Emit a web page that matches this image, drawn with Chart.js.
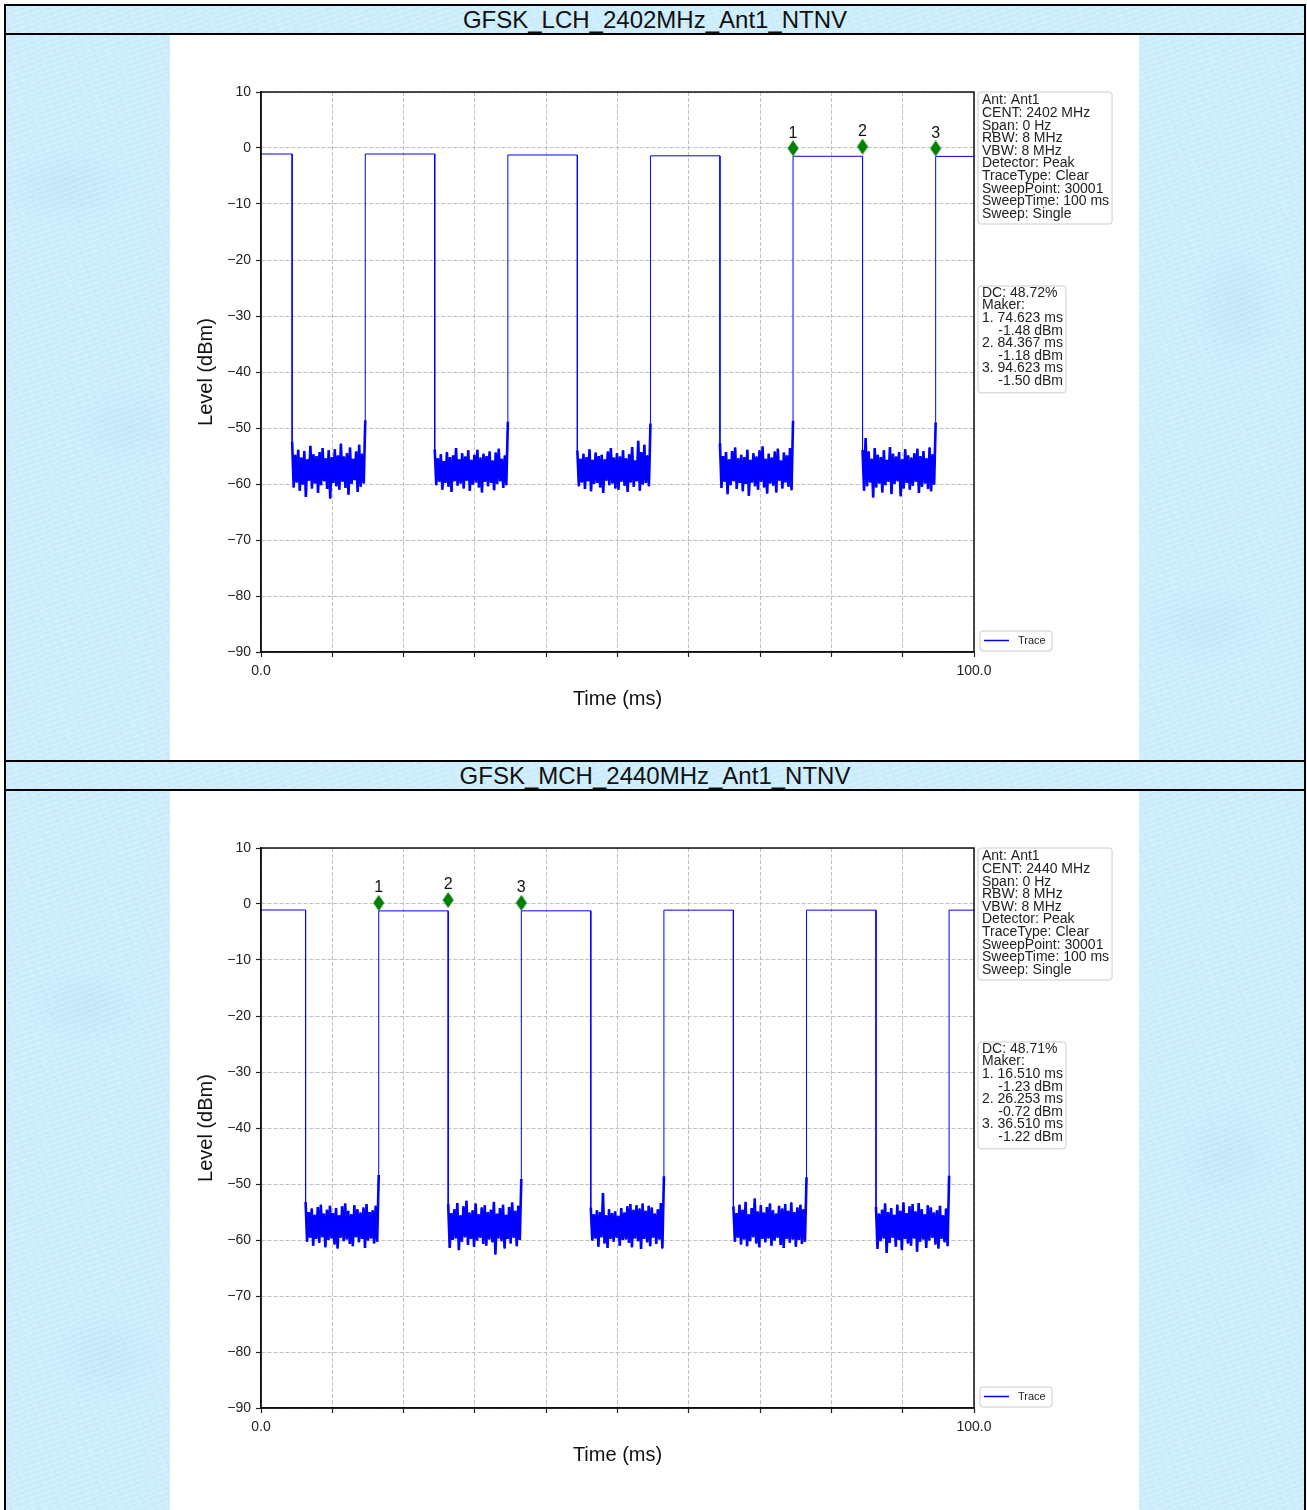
<!DOCTYPE html>
<html>
<head>
<meta charset="utf-8">
<script src="https://cdn.jsdelivr.net/npm/chart.js@4.4.1/dist/chart.umd.min.js"></script>
<style>
    html, body { margin: 0; padding: 0; background: #fff; }
    body { width: 1307px; height: 1510px; position: relative; overflow: hidden;
           font-family: "Liberation Sans", Arial, Helvetica, sans-serif; }
    .frame {
        position: absolute; left: 4px; top: 4px; width: 1302px; height: 1520px;
        box-sizing: border-box; border: 2px solid #000; border-bottom: none;
        background-color: #ccedfc;
        background-image:
            repeating-linear-gradient(160deg, rgba(255,255,255,0.25) 0 1px, transparent 1px 5px),
            repeating-linear-gradient(70deg, rgba(180,220,245,0.18) 0 2px, transparent 2px 9px),
            radial-gradient(ellipse 70px 40px at 60px 180px, rgba(170,215,242,0.3), transparent),
            radial-gradient(ellipse 60px 45px at 120px 420px, rgba(170,215,242,0.25), transparent),
            radial-gradient(ellipse 50px 70px at 1230px 300px, rgba(170,215,242,0.3), transparent),
            radial-gradient(ellipse 70px 45px at 1200px 620px, rgba(170,215,242,0.25), transparent),
            radial-gradient(ellipse 60px 40px at 80px 1000px, rgba(170,215,242,0.3), transparent),
            radial-gradient(ellipse 60px 60px at 1220px 1150px, rgba(170,215,242,0.25), transparent),
            radial-gradient(ellipse 60px 50px at 100px 1350px, rgba(170,215,242,0.25), transparent);
    }
    .rule { position: absolute; left: 4px; width: 1302px; height: 2px; background: #000; }
    .white { position: absolute; left: 170px; width: 969px; background: #fff; }
    .title { position: absolute; left: 6px; width: 1298px; height: 27px; line-height: 27px;
             text-align: center; font-size: 24px; color: #111; }
    canvas { position: absolute; left: 170px; }
</style>
</head>
<body>
<div class="frame"></div>
<div class="rule" style="top:33px"></div>
<div class="rule" style="top:760px"></div>
<div class="rule" style="top:789px"></div>
<div class="white" style="top:35px;height:725px"></div>
<div class="white" style="top:791px;height:730px"></div>
<div class="title" style="top:6px">GFSK_LCH_2402MHz_Ant1_NTNV</div>
<div class="title" style="top:762px">GFSK_MCH_2440MHz_Ant1_NTNV</div>
<canvas id="lchChart" width="969" height="726" style="top:34px"></canvas>
<canvas id="mchChart" width="969" height="726" style="top:790px"></canvas>

<script>
const FONT = '"Liberation Sans", Arial, Helvetica, sans-serif';

// ---- LCH 2402 MHz ----
const lchOnStarts = [0, 14.623, 34.623, 54.623, 74.623, 94.623];
const lchOffStarts = [4.367, 24.367, 44.367, 64.367, 84.367];
const lchOnLevels = [-1.07, -1.07, -1.25, -1.4, -1.48, -1.5];
const lchNoise = [
    [-52.4,-60.6,-54.8,-59.7,-53.9,-61.2,-55.3,-60.1,-54.1,-62.3,-55.6,-59.4,-53.2,-60.8,-54.7,-59.9,-55.0,-61.6,-54.3,-60.2,-53.6,-59.5,-55.4,-60.9,-54.0,-62.6,-55.2,-59.8,-53.8,-60.4,-54.9,-61.0,-52.8,-59.6,-55.1,-60.7,-54.5,-61.9,-53.5,-60.0,-55.5,-59.3,-54.2,-61.4,-53.0,-60.5,-54.6,-59.9,-48.6],
    [-53.8,-60.2,-55.4,-59.6,-54.7,-61.0,-55.9,-59.8,-54.3,-60.5,-55.2,-61.4,-54.9,-59.5,-53.6,-60.3,-55.6,-59.9,-54.5,-60.8,-55.1,-59.4,-54.0,-61.2,-55.7,-60.1,-54.8,-59.7,-53.9,-60.6,-55.3,-61.5,-54.6,-59.6,-55.0,-60.4,-54.2,-59.8,-55.8,-61.1,-54.4,-60.0,-53.7,-59.5,-55.5,-60.7,-54.9,-60.2,-48.9],
    [-54.0,-60.4,-55.5,-59.7,-54.6,-60.9,-55.2,-59.5,-53.8,-61.3,-55.7,-60.0,-54.4,-59.8,-55.0,-60.6,-54.8,-61.6,-55.6,-59.4,-54.2,-60.2,-53.6,-59.9,-55.3,-60.8,-54.5,-61.0,-55.1,-59.6,-54.0,-60.3,-55.4,-61.4,-54.7,-59.7,-53.4,-60.5,-55.8,-59.5,-52.3,-61.2,-54.3,-60.1,-53.0,-59.8,-54.9,-60.4,-49.2],
    [-52.7,-60.7,-55.0,-59.6,-54.3,-61.8,-55.6,-60.2,-54.1,-59.5,-53.5,-60.9,-55.4,-59.8,-54.8,-61.3,-55.2,-60.0,-53.9,-62.1,-55.7,-59.7,-54.5,-60.4,-55.1,-61.0,-54.0,-59.6,-53.3,-60.6,-55.5,-61.7,-54.6,-59.9,-55.3,-60.3,-54.2,-61.5,-53.7,-59.4,-55.8,-60.8,-54.4,-59.7,-54.9,-60.5,-53.6,-61.1,-48.7],
    [-53.9,-61.2,-51.8,-60.4,-54.2,-59.7,-55.5,-62.4,-53.6,-60.6,-54.8,-59.9,-55.2,-61.5,-54.0,-60.2,-55.7,-59.6,-53.4,-61.8,-54.6,-60.0,-55.1,-59.5,-54.3,-62.2,-55.6,-60.8,-53.8,-59.8,-54.9,-61.0,-55.3,-60.3,-54.5,-59.6,-53.7,-61.6,-55.0,-60.5,-54.1,-59.9,-55.4,-60.9,-53.5,-61.3,-54.7,-60.1,-49.0]
];
const lchMarkerTimes = [74.623, 84.367, 94.623];
const lchMarkerLevels = [-1.48, -1.18, -1.50];
const lchInfo = ['Ant: Ant1', 'CENT: 2402 MHz', 'Span: 0 Hz', 'RBW: 8 MHz', 'VBW: 8 MHz',
    'Detector: Peak', 'TraceType: Clear', 'SweepPoint: 30001', 'SweepTime: 100 ms', 'Sweep: Single'];
const lchDc = 'DC: 48.72%';

// ---- MCH 2440 MHz ----
const mchOnStarts = [0, 16.510, 36.510, 56.510, 76.510, 96.510];
const mchOffStarts = [6.253, 26.253, 46.253, 66.253, 86.253];
const mchOnLevels = [-1.07, -1.23, -1.22, -1.1, -1.1, -1.1];
const mchNoise = [
    [-53.2,-60.3,-55.0,-59.6,-54.4,-61.0,-55.5,-59.8,-54.1,-60.5,-53.7,-59.5,-55.3,-61.3,-54.6,-60.0,-53.9,-59.7,-55.2,-60.8,-54.3,-61.5,-55.6,-59.6,-54.0,-60.2,-53.5,-59.9,-54.8,-60.7,-55.4,-61.1,-53.8,-59.5,-54.5,-60.4,-55.1,-59.8,-54.2,-61.4,-53.6,-60.1,-55.0,-59.7,-54.7,-60.6,-53.9,-60.3,-48.4],
    [-53.6,-61.4,-55.2,-60.0,-54.5,-59.7,-53.4,-61.8,-55.6,-60.3,-54.0,-59.5,-53.0,-60.9,-55.1,-59.8,-54.7,-61.2,-53.5,-60.1,-55.4,-59.6,-54.2,-60.7,-53.8,-61.0,-55.0,-59.9,-54.6,-60.4,-53.2,-62.6,-55.3,-59.7,-54.3,-60.2,-53.7,-61.5,-55.5,-59.8,-54.1,-60.6,-53.3,-59.6,-54.8,-61.1,-53.9,-60.0,-49.1],
    [-54.2,-60.1,-55.4,-59.7,-54.7,-61.2,-55.0,-59.5,-51.6,-60.6,-55.6,-61.4,-54.5,-59.8,-55.2,-60.3,-54.9,-59.6,-55.7,-61.0,-54.3,-60.0,-55.1,-59.9,-54.0,-60.5,-53.6,-61.3,-54.6,-59.7,-53.8,-60.2,-54.4,-61.6,-53.5,-59.8,-54.8,-60.4,-53.9,-61.1,-54.2,-59.6,-55.3,-60.7,-54.5,-59.9,-53.4,-61.5,-48.6],
    [-54.0,-60.3,-55.2,-59.6,-53.7,-60.8,-54.6,-59.9,-53.2,-61.1,-55.4,-60.2,-54.3,-59.5,-52.6,-60.6,-54.9,-61.3,-53.8,-59.8,-55.1,-60.4,-54.1,-59.7,-53.5,-61.0,-54.7,-60.1,-55.3,-59.6,-53.9,-60.9,-54.4,-61.4,-53.6,-59.8,-54.8,-60.5,-53.3,-59.9,-55.0,-61.2,-54.2,-60.0,-53.7,-60.7,-54.5,-60.3,-48.8],
    [-54.1,-61.6,-55.3,-60.2,-54.6,-59.7,-53.5,-62.3,-55.0,-60.5,-54.3,-59.6,-55.5,-61.2,-53.7,-60.0,-54.8,-61.8,-53.3,-59.8,-55.2,-60.6,-54.0,-61.0,-53.6,-59.7,-54.9,-62.1,-53.4,-60.3,-54.5,-59.9,-55.4,-61.4,-53.8,-60.1,-54.2,-59.6,-55.1,-60.8,-54.7,-61.5,-53.9,-59.8,-55.6,-60.4,-54.4,-61.1,-48.5]
];
const mchMarkerTimes = [16.510, 26.253, 36.510];
const mchMarkerLevels = [-1.23, -0.72, -1.22];
const mchInfo = ['Ant: Ant1', 'CENT: 2440 MHz', 'Span: 0 Hz', 'RBW: 8 MHz', 'VBW: 8 MHz',
    'Detector: Peak', 'TraceType: Clear', 'SweepPoint: 30001', 'SweepTime: 100 ms', 'Sweep: Single'];
const mchDc = 'DC: 48.71%';

const yTicks = [10, 0, -10, -20, -30, -40, -50, -60, -70, -80, -90];

// noise samples are spread evenly over each off interval
function noisePoints(end, next, gap) {
    return gap.map((v, k) => ({x: end + (next - end) * k / (gap.length - 1), y: v}));
}

function buildTrace(onStarts, offStarts, onLevels, noise) {
    const pts = [];
    onStarts.forEach((start, i) => {
        const end = i < offStarts.length ? offStarts[i] : 100;
        pts.push({x: start, y: onLevels[i]}, {x: end, y: onLevels[i]});
        if (i < offStarts.length) {
            pts.push(...noisePoints(end, onStarts[i + 1], noise[i]));
        }
    });
    return pts;
}

// same noise floor samples, broken between bursts, drawn heavier so the band reads solid
function buildBand(onStarts, offStarts, noise) {
    const pts = [];
    offStarts.forEach((end, i) => {
        pts.push(...noisePoints(end, onStarts[i + 1], noise[i]));
        pts.push({x: onStarts[i + 1], y: null});
    });
    return pts;
}

// thin green diamond, bottom tip sits on the data point
const diamond = document.createElement('canvas');
diamond.width = 12;
diamond.height = 32;
(function () {
    const c = diamond.getContext('2d');
    c.fillStyle = '#008000';
    c.beginPath();
    c.moveTo(6, 0);
    c.lineTo(11.5, 8);
    c.lineTo(6, 16);
    c.lineTo(0.5, 8);
    c.closePath();
    c.fill();
})();

function roundBox(ctx, x, y, w, h, r) {
    ctx.beginPath();
    ctx.moveTo(x + r, y);
    ctx.arcTo(x + w, y, x + w, y + h, r);
    ctx.arcTo(x + w, y + h, x, y + h, r);
    ctx.arcTo(x, y + h, x, y, r);
    ctx.arcTo(x, y, x + w, y, r);
    ctx.closePath();
    ctx.fillStyle = '#fff';
    ctx.fill();
    ctx.strokeStyle = '#cccccc';
    ctx.lineWidth = 1;
    ctx.stroke();
}

function decorPlugin(info, dc, markerTimes, markerLevels) {
    return {
        id: 'scopeDecor',
        afterDraw(chart) {
            const ctx = chart.ctx;
            const a = chart.chartArea;
            ctx.save();

            // full axes box
            ctx.strokeStyle = '#111';
            ctx.lineWidth = 1.5;
            ctx.strokeRect(a.left, a.top, a.right - a.left, a.bottom - a.top);

            // marker numbers
            const meta = chart.getDatasetMeta(2);
            ctx.fillStyle = '#111';
            ctx.font = '16px ' + FONT;
            ctx.textAlign = 'center';
            ctx.textBaseline = 'middle';
            meta.data.forEach((pt, i) => ctx.fillText(String(i + 1), pt.x, pt.y - 23));

            // axis titles
            ctx.font = '20px ' + FONT;
            ctx.fillText('Time (ms)', (a.left + a.right) / 2, 665);
            ctx.save();
            ctx.translate(36, (a.top + a.bottom) / 2);
            ctx.rotate(-Math.PI / 2);
            ctx.fillText('Level (dBm)', 0, 0);
            ctx.restore();

            // instrument settings box
            const bx = a.right + 4;
            ctx.font = '14px ' + FONT;
            const lh = 12.6;
            const w1 = Math.max(...info.map(t => ctx.measureText(t).width));
            roundBox(ctx, bx, a.top, w1 + 7, lh * info.length + 6, 3);
            ctx.fillStyle = '#222';
            ctx.textAlign = 'left';
            info.forEach((t, i) => ctx.fillText(t, bx + 4, a.top + 8.5 + i * lh));

            // duty cycle / marker box
            const lines = [dc, 'Maker:'];
            markerTimes.forEach((t, i) => {
                lines.push((i + 1) + '. ' + t.toFixed(3) + ' ms');
                lines.push(markerLevels[i].toFixed(2) + ' dBm');
            });
            const mainW = ctx.measureText('1. ' + markerTimes[0].toFixed(3) + ' ms').width;
            const w2 = Math.max(mainW, ctx.measureText(dc).width);
            const by = 252;
            roundBox(ctx, bx, by, w2 + 7, lh * lines.length + 6, 3);
            ctx.fillStyle = '#222';
            lines.forEach((t, i) => {
                const isLevel = i >= 2 && (i - 2) % 2 === 1;
                ctx.textAlign = isLevel ? 'right' : 'left';
                ctx.fillText(t, isLevel ? bx + 4 + mainW : bx + 4, by + 7 + i * lh);
            });

            // legend
            const ly = a.bottom - 21;
            roundBox(ctx, bx + 2, ly, 72, 20, 3);
            ctx.strokeStyle = '#0000ff';
            ctx.lineWidth = 1.5;
            ctx.beginPath();
            ctx.moveTo(bx + 6, ly + 9.5);
            ctx.lineTo(bx + 31, ly + 9.5);
            ctx.stroke();
            ctx.fillStyle = '#222';
            ctx.font = '11px ' + FONT;
            ctx.textAlign = 'left';
            ctx.fillText('Trace', bx + 40, ly + 10);

            ctx.restore();
        }
    };
}

function makeChart(id, onStarts, offStarts, onLevels, noise, markerTimes, markerLevels, info, dc) {
    const trace = buildTrace(onStarts, offStarts, onLevels, noise);
    const band = buildBand(onStarts, offStarts, noise);
    const markers = markerTimes.map((t, i) => ({x: t, y: markerLevels[i]}));
    return new Chart(document.getElementById(id), {
        type: 'scatter',
        data: {
            datasets: [{
                label: 'Trace',
                data: trace,
                showLine: true,
                borderColor: '#0000ff',
                borderWidth: 1,
                pointRadius: 0,
                tension: 0
            }, {
                label: 'Band',
                data: band,
                showLine: true,
                spanGaps: false,
                borderColor: '#0000ff',
                borderWidth: 2.6,
                borderJoinStyle: 'miter',
                pointRadius: 0,
                tension: 0
            }, {
                label: 'Markers',
                data: markers,
                pointStyle: diamond,
                pointRadius: 6,
                showLine: false
            }]
        },
        options: {
            responsive: false,
            animation: false,
            events: [],
            layout: { padding: { left: 0, top: 58, right: 165, bottom: 0 } },
            scales: {
                x: {
                    type: 'linear',
                    min: 0,
                    max: 100,
                    afterFit: s => { s.height = 108; },
                    ticks: {
                        stepSize: 10,
                        autoSkip: false,
                        maxRotation: 0,
                        padding: 6,
                        color: '#222',
                        font: { size: 14, family: FONT },
                        callback: v => (v === 0 || v === 100) ? v.toFixed(1) : ''
                    },
                    grid: { color: '#b0b0b0', lineWidth: 0.8, tickColor: '#222', tickLength: 5, tickWidth: 1.2, tickBorderDash: [] },
                    border: { display: true, color: '#111', width: 1.5, dash: [4, 2] }
                },
                y: {
                    min: -90,
                    max: 10,
                    afterFit: s => { s.width = 91; },
                    afterBuildTicks: s => { s.ticks = yTicks.map(v => ({value: v})); },
                    ticks: {
                        padding: 5,
                        color: '#222',
                        font: { size: 14, family: FONT },
                        callback: v => String(v).replace('-', '\u2212')
                    },
                    grid: { color: '#b0b0b0', lineWidth: 0.8, tickColor: '#222', tickLength: 5, tickWidth: 1.2, tickBorderDash: [] },
                    border: { display: true, color: '#111', width: 1.5, dash: [4, 2] }
                }
            },
            plugins: {
                legend: { display: false },
                tooltip: { enabled: false }
            }
        },
        plugins: [decorPlugin(info, dc, markerTimes, markerLevels)]
    });
}

makeChart('lchChart', lchOnStarts, lchOffStarts, lchOnLevels, lchNoise, lchMarkerTimes, lchMarkerLevels, lchInfo, lchDc);
makeChart('mchChart', mchOnStarts, mchOffStarts, mchOnLevels, mchNoise, mchMarkerTimes, mchMarkerLevels, mchInfo, mchDc);
</script>
</body>
</html>
